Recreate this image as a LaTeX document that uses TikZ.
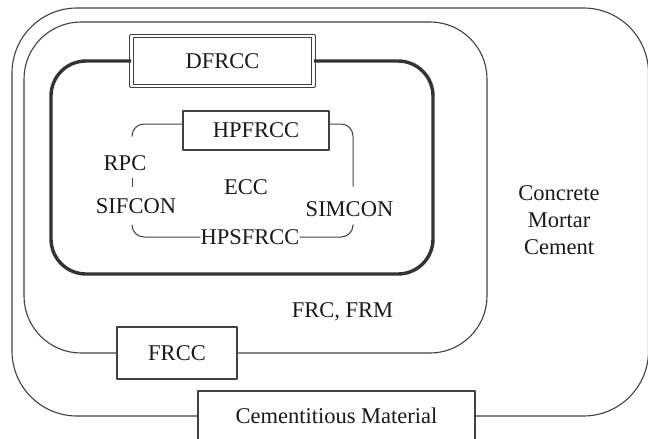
\documentclass[tikz,border=0pt]{standalone}
\usepackage{fontspec}
\setmainfont{Liberation Serif}
\begin{document}
\begin{tikzpicture}[x=1pt,y=-1pt,line join=round,
  every node/.style={font=\fontsize{22.5}{27}\selectfont,text=black!90},
  wire/.style={draw=black!75,line width=1.1pt},
  thickwire/.style={draw=black!80,line width=3.4pt},
  loopwire/.style={draw=black!75,line width=1pt,rounded corners=12pt},
  box/.style={draw=black!75,line width=1.1pt,fill=white,inner sep=0pt},
  lbl/.style={inner sep=0pt}]
\useasboundingbox (0,0) rectangle (648,439);
% boxes
\node[box,minimum width=277pt,minimum height=50pt] (cem) at (336.5,416) {Cementitious Material};
\node[box,minimum width=120pt,minimum height=52pt] (frcc) at (177,353) {FRCC};
\node[box,double,double distance=2.6pt,line width=0.9pt,minimum width=182pt,minimum height=50pt] (dfrcc) at (222.5,61) {DFRCC};
\node[box,minimum width=146pt,minimum height=39pt] (hpfrcc) at (256,130.5) {HPFRCC};
% labels
\node[lbl] (rpc) at (125,163.5) {RPC};
\node[lbl] (sifcon) at (136,206.5) {SIFCON};
\node[lbl] (ecc) at (246,187) {ECC};
\node[lbl] (hpsfrcc) at (250,237) {HPSFRCC};
\node[lbl] (simcon) at (349.5,209.5) {SIMCON};
\node[lbl] (frc) at (342.5,312) {FRC, FRM};
\node[lbl,align=center] (cmc) at (559,220) {Concrete\\Mortar\\Cement};
% corner coordinates
\coordinate (otr) at (648.5,8);
\coordinate (obl) at (12,0);
\coordinate (mtr) at (487,22);
\coordinate (mbl) at (24,0);
\coordinate (ibr) at (433,274);
\coordinate (itl) at (51,0);
\coordinate (L) at (132,0);
\coordinate (R) at (353,0);
% outer frames
\draw[wire,rounded corners=65pt] (cem.east) -| (otr) -| (obl |- cem.west) -- (cem.west);
\draw[wire,rounded corners=57pt] (frcc.east) -| (mtr) -| (mbl |- frcc.west) -- (frcc.west);
\draw[thickwire,rounded corners=35pt] (dfrcc.east) -| (ibr) -| (itl |- dfrcc.west) -- (dfrcc.west);
% inner loop
\draw[loopwire] ([yshift=6.5pt]hpfrcc.west) -| ([yshift=19pt]L |- rpc.north);
\draw[loopwire] ([yshift=-7pt]L |- rpc.south) -- ([yshift=12pt]L |- sifcon.north);
\draw[loopwire] ([yshift=-11pt]L |- sifcon.south) |- (hpsfrcc.west);
\draw[loopwire] (hpsfrcc.east) -| ([yshift=-9pt]R |- simcon.south);
\draw[loopwire] ([yshift=6.5pt]hpfrcc.east) -| ([yshift=15pt]R |- simcon.north);
\end{tikzpicture}
\end{document}
